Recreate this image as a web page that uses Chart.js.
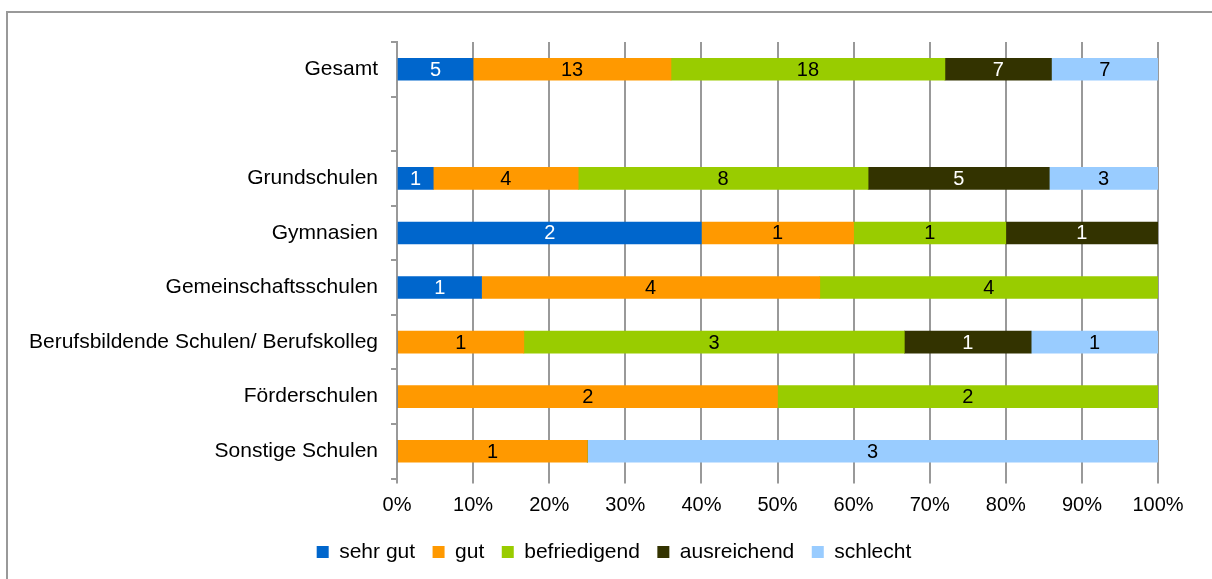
<!DOCTYPE html>
<html>
<head>
<meta charset="utf-8">
<script src="https://cdn.jsdelivr.net/npm/chart.js@4/dist/chart.umd.min.js"></script>
<style>
    html, body {margin: 0; padding: 0; background: #fff; overflow: hidden;}
    #wrap {position: relative; width: 1212px; height: 579px;}
    #frame {position: absolute; left: 6px; top: 11px; width: 1300px; height: 700px; border: 2px solid #999; box-sizing: border-box;}
    #chart {position: absolute; left: 0; top: 0;}
</style>
</head>
<body>
<div id="wrap">
    <div id="frame"></div>
    <canvas id="chart" width="1212" height="579"></canvas>
</div>
<script>
// Schularten (leere Zeile als Abstand nach "Gesamt")
const categories = ['Gesamt', '', 'Grundschulen', 'Gymnasien', 'Gemeinschaftsschulen',
    'Berufsbildende Schulen/ Berufskolleg', 'Förderschulen', 'Sonstige Schulen'];

// Anzahl der Nennungen je Bewertung
const sehrGut      = [5,  null, 1, 2, 1, 0, 0, 0];
const gut          = [13, null, 4, 1, 4, 1, 2, 1];
const befriedigend = [18, null, 8, 1, 4, 3, 2, 0];
const ausreichend  = [7,  null, 5, 1, 0, 1, 0, 0];
const schlecht     = [7,  null, 3, 0, 0, 1, 0, 3];

const xTickLabels = ['0%', '10%', '20%', '30%', '40%', '50%', '60%', '70%', '80%', '90%', '100%'];

const FONT = '"Liberation Sans", Arial, sans-serif';
const GRID = '#999';

const series = [
    {label: 'sehr gut', counts: sehrGut, color: '#0066CC', text: '#fff'},
    {label: 'gut', counts: gut, color: '#FF9900', text: '#000'},
    {label: 'befriedigend', counts: befriedigend, color: '#99CC00', text: '#000'},
    {label: 'ausreichend', counts: ausreichend, color: '#333300', text: '#fff'},
    {label: 'schlecht', counts: schlecht, color: '#99CCFF', text: '#000'},
];

// Summen je Zeile -> Anteile in %
const totals = categories.map((c, i) => series.reduce((s, d) => s + (d.counts[i] || 0), 0));
const toPercent = (counts) => counts.map((v, i) => (v === null || !totals[i]) ? null : v / totals[i] * 100);

// Zahlen in die Balken schreiben
const countLabels = {
    id: 'countLabels',
    afterDatasetsDraw(chart) {
        const ctx = chart.ctx;
        ctx.save();
        ctx.font = '20px ' + FONT;
        ctx.textAlign = 'center';
        ctx.textBaseline = 'middle';
        chart.data.datasets.forEach((ds, di) => {
            const meta = chart.getDatasetMeta(di);
            meta.data.forEach((bar, i) => {
                const n = series[di].counts[i];
                if (!n) return;
                ctx.fillStyle = series[di].text;
                ctx.fillText(String(n), (bar.x + bar.base) / 2, bar.y + 1);
            });
        });
        ctx.restore();
    }
};

// Legende etwas nach rechts schieben (wie im Original)
const legendShift = {
    id: 'legendShift',
    afterLayout(chart) {
        chart.legend.left += 35;
        chart.legend.right += 35;
    }
};

new Chart(document.getElementById('chart'), {
    type: 'bar',
    data: {
        labels: categories,
        datasets: series.map(s => ({
            label: s.label,
            data: toPercent(s.counts),
            backgroundColor: s.color,
            borderWidth: 0,
            barThickness: 22,
        })),
    },
    options: {
        indexAxis: 'y',
        responsive: false,
        animation: false,
        events: [],
        layout: {padding: {top: 42, right: 54, bottom: 6.5, left: 0}},
        plugins: {
            legend: {
                position: 'bottom',
                labels: {
                    boxWidth: 12,
                    boxHeight: 12,
                    padding: 17.5,
                    color: '#000',
                    font: {family: FONT, size: 21},
                },
            },
            tooltip: {enabled: false},
        },
        scales: {
            x: {
                stacked: true,
                min: 0,
                max: 100,
                afterFit: (scale) => { scale.height = 45.5; },
                border: {display: false},
                grid: {color: GRID, lineWidth: 2, tickLength: 5},
                ticks: {
                    stepSize: 10,
                    padding: 9.5,
                    color: '#000',
                    font: {family: FONT, size: 20},
                    callback: (v, i) => xTickLabels[i],
                },
            },
            y: {
                stacked: true,
                afterFit: (scale) => { scale.width = 397; },
                border: {display: true, color: GRID, width: 2},
                grid: {drawOnChartArea: false, color: GRID, lineWidth: 2, tickLength: 6},
                ticks: {
                    padding: 13,
                    color: '#000',
                    font: {family: FONT, size: 21},
                },
            },
        },
    },
    plugins: [countLabels, legendShift],
});
</script>
</body>
</html>
